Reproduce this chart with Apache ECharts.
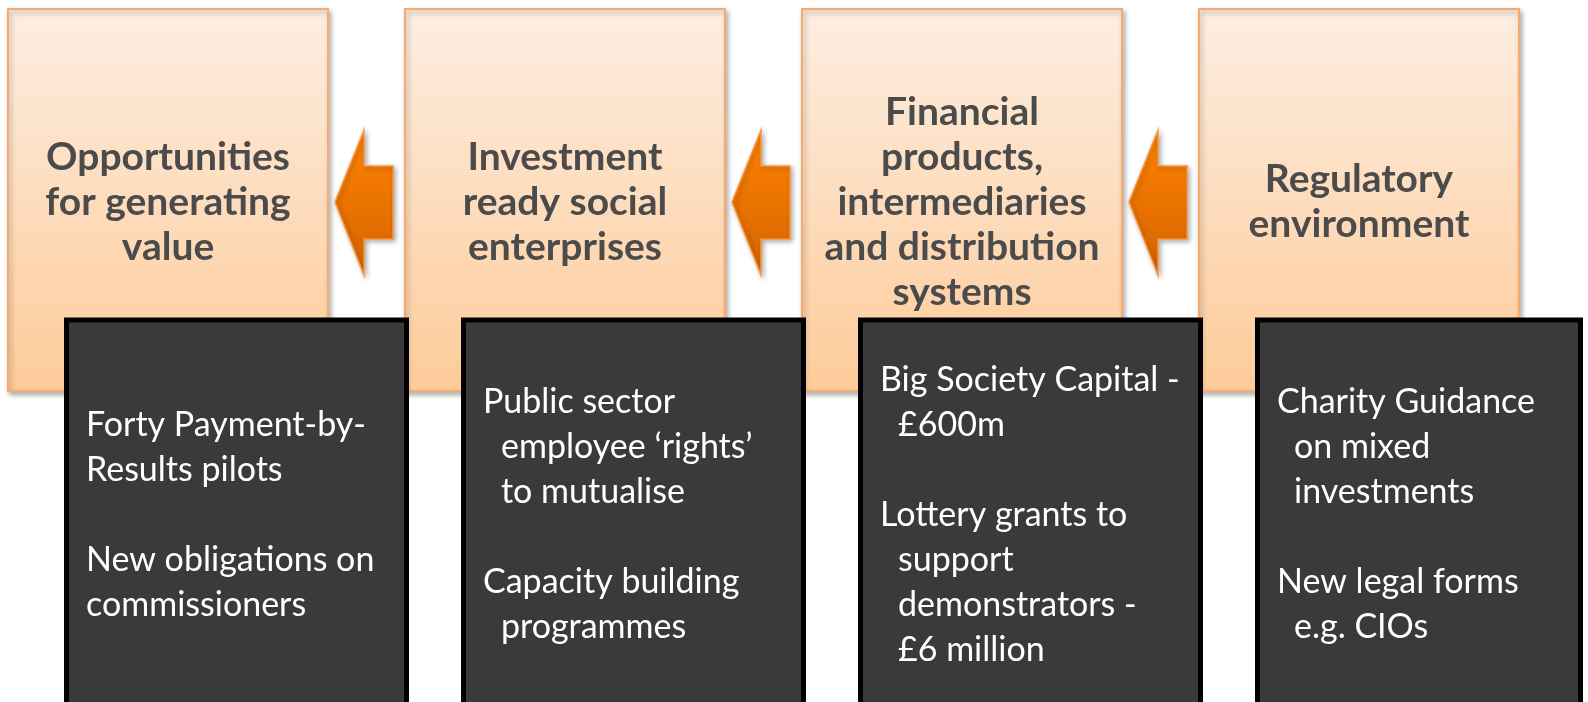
<!DOCTYPE html>
<html>
<head>
<meta charset="utf-8">
<script src="https://cdn.jsdelivr.net/npm/echarts@6/dist/echarts.min.js"></script>
<style>
  html, body { margin: 0; padding: 0; background: #fff; }
  #main { width: 1588px; height: 702px; }
</style>
</head>
<body>
<div id="main"></div>
<script>
// stages of the chain, left to right
const stages = ['Opportunities', 'Investment', 'Financial', 'Regulatory'];

// heading text of each orange box, one entry per line
const titleLines = [
  ['Opportunities', 'for generating', 'value'],
  ['Investment', 'ready social', 'enterprises'],
  ['Financial', 'products,', 'intermediaries', 'and distribution', 'systems'],
  ['Regulatory', 'environment']
];

// notes in the dark boxes: paragraphs, each one a list of lines
const noteParas = [
  [['Forty Payment-by-', 'Results pilots'], ['New obligations on', 'commissioners']],
  [['Public sector', 'employee \u2018rights\u2019', 'to mutualise'], ['Capacity building', 'programmes']],
  [['Big Society Capital -', '\u00a3600m'], ['Lottery grants to', 'support', 'demonstrators -', '\u00a36 million']],
  [['Charity Guidance', 'on mixed', 'investments'], ['New legal forms', 'e.g. CIOs']]
];

// layout
const W = 1588;
const BOX_INSET = 8, BOX_W = 320, BOX_TOP = 9, BOX_BOTTOM = 391;
const DARK_DX = 56, DARK_W = 345, DARK_TOP = 320, DARK_BOTTOM = 760;
const LINE_H = 45;
const hangIndent = [0, 18, 18, 17];

const chart = echarts.init(document.getElementById('main'), null, { renderer: 'canvas' });

function boxLeft(api, i) {
  const c = api.coord([i, 0]);
  const band = api.size([1, 0])[0];
  return c[0] - band / 2 + BOX_INSET;
}

function renderStage(params, api) {
  const i = api.value(0);
  const x0 = boxLeft(api, i);
  const y = v => api.coord([i, v])[1];
  const children = [];

  // arrow pointing left, in the gap before this box
  if (i > 0) {
    children.push({
      type: 'polygon',
      shape: {
        points: [
          [x0 - 70, y(202)], [x0 - 41, y(130)], [x0 - 41, y(166)], [x0 - 12, y(166)],
          [x0 - 12, y(239)], [x0 - 41, y(239)], [x0 - 41, y(275)]
        ]
      },
      style: {
        fill: new echarts.graphic.LinearGradient(0, 0, 0, 1, [
          { offset: 0, color: '#ff8300' },
          { offset: 1, color: '#d66300' }
        ]),
        stroke: '#f8973c',
        lineWidth: 1.5,
        shadowBlur: 5,
        shadowOffsetX: 2,
        shadowOffsetY: 2,
        shadowColor: 'rgba(0,0,0,0.3)'
      }
    });
  }

  children.push({
    type: 'rect',
    shape: { x: x0, y: y(BOX_TOP), width: BOX_W, height: y(BOX_BOTTOM) - y(BOX_TOP) },
    style: {
      fill: new echarts.graphic.LinearGradient(0, 0, 0, 1, [
        { offset: 0, color: '#fdeee2' },
        { offset: 1, color: '#fdcb99' }
      ]),
      stroke: '#f6aa6e',
      lineWidth: 2,
      shadowBlur: 5,
      shadowOffsetX: 2,
      shadowOffsetY: 3,
      shadowColor: 'rgba(0,0,0,0.3)'
    }
  });

  const lines = titleLines[i];
  const mid = (y(BOX_TOP) + y(BOX_BOTTOM)) / 2 + 2;
  lines.forEach((t, k) => {
    children.push({
      type: 'text',
      style: {
        text: t,
        x: x0 + BOX_W / 2,
        y: mid + (k - (lines.length - 1) / 2) * LINE_H,
        align: 'center',
        verticalAlign: 'middle',
        font: 'bold 39px Lato, "Open Sans", sans-serif',
        fill: '#4b4b4b'
      }
    });
  });
  return { type: 'group', children };
}

function renderNotes(params, api) {
  const i = api.value(0);
  const x0 = boxLeft(api, i) + DARK_DX;
  const y = v => api.coord([i, v])[1];
  const w = Math.min(DARK_W, W - 5 - x0);
  const children = [{
    type: 'rect',
    shape: { x: x0 + 2.5, y: y(DARK_TOP), width: w - 5, height: y(DARK_BOTTOM) - y(DARK_TOP) },
    style: { fill: '#3a3a3a', stroke: '#000', lineWidth: 5 }
  }];

  // lines with a blank line between paragraphs
  const rows = [];
  noteParas[i].forEach((p, pi) => {
    if (pi > 0) rows.push(null);
    p.forEach((t, k) => rows.push({ t, indent: k > 0 }));
  });
  const mid = 515;
  rows.forEach((r, k) => {
    if (!r) return;
    children.push({
      type: 'text',
      style: {
        text: r.t,
        x: x0 + 22 + (r.indent ? hangIndent[i] : 0),
        y: y(mid + (k - (rows.length - 1) / 2) * LINE_H),
        align: 'left',
        verticalAlign: 'middle',
        font: '34px Lato, "Open Sans", sans-serif',
        fill: '#ffffff'
      }
    });
  });
  return { type: 'group', children };
}

const option = {
  animation: false,
  backgroundColor: '#ffffff',
  grid: { left: 0, right: 0, top: 0, bottom: 0 },
  xAxis: { type: 'category', data: stages, show: false },
  yAxis: { type: 'value', min: 0, max: 702, inverse: true, show: false },
  series: [
    {
      type: 'custom',
      name: 'stages',
      z: 2,
      renderItem: renderStage,
      data: stages.map((s, i) => [i])
    },
    {
      type: 'custom',
      name: 'notes',
      z: 3,
      renderItem: renderNotes,
      data: stages.map((s, i) => [i])
    }
  ]
};

chart.setOption(option);
</script>
</body>
</html>
